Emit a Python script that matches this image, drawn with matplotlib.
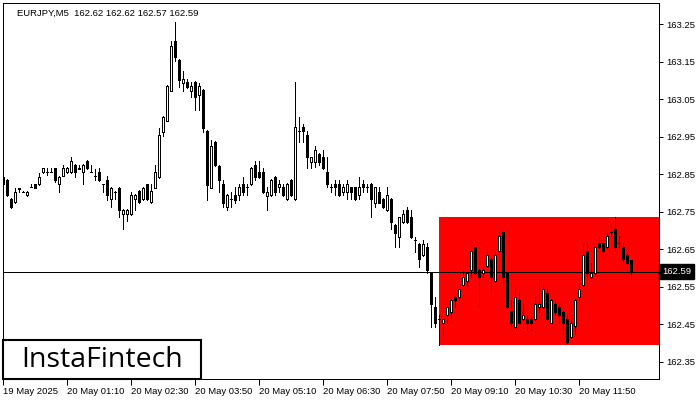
import matplotlib
matplotlib.use("Agg")
import matplotlib.pyplot as plt
import matplotlib.patches as mpatches
from matplotlib.transforms import blended_transform_factory

symbol_title = "EURJPY,M5  162.62 162.62 162.57 162.59"

opens = [162.823, 162.834, 162.784, 162.775, 162.812, 162.803, 162.794, 162.817, 162.823, 162.823,
         162.855, 162.857, 162.857, 162.866, 162.823, 162.846, 162.855, 162.855, 162.874, 162.866,
         162.855, 162.885, 162.857, 162.845, 162.855, 162.823, 162.834, 162.784, 162.803, 162.814,
         162.743, 162.743, 162.743, 162.784, 162.805, 162.784, 162.823, 162.775, 162.814, 162.843,
         162.963, 162.993, 163.073, 163.205, 163.154, 163.092, 163.097, 163.073, 163.097, 163.061,
         163.074, 162.965, 162.814, 162.937, 162.873, 162.824, 162.763, 162.784, 162.795, 162.795,
         162.824, 162.815, 162.824, 162.875, 162.855, 162.855, 162.792, 162.795, 162.843, 162.815,
         162.815, 162.784, 162.835, 162.784, 162.965, 162.975, 162.955, 162.883, 162.883, 162.904,
         162.895, 162.855, 162.815, 162.824, 162.824, 162.803, 162.803, 162.815, 162.815, 162.795,
         162.824, 162.815, 162.824, 162.774, 162.803, 162.784, 162.755, 162.784, 162.715, 162.683,
         162.723, 162.755, 162.735, 162.674, 162.664, 162.634, 162.656, 162.586, 162.495, 162.463,
         162.454, 162.475, 162.483, 162.523, 162.523, 162.555, 162.565, 162.595, 162.655, 162.595,
         162.586, 162.605, 162.624, 162.565, 162.645, 162.695, 162.586, 162.485, 162.443, 162.515,
         162.463, 162.463, 162.463, 162.463, 162.495, 162.495, 162.534, 162.454, 162.504, 162.495,
         162.483, 162.463, 162.415, 162.445, 162.523, 162.555, 162.645, 162.575, 162.586, 162.666,
         162.666, 162.655, 162.695, 162.704, 162.666, 162.655, 162.634, 162.620]

highs = [162.857, 162.836, 162.786, 162.814, 162.813, 162.804, 162.805, 162.824, 162.824, 162.852,
         162.867, 162.867, 162.866, 162.867, 162.845, 162.874, 162.868, 162.897, 162.876, 162.874,
         162.876, 162.887, 162.874, 162.864, 162.866, 162.824, 162.845, 162.816, 162.804, 162.816,
         162.756, 162.756, 162.803, 162.796, 162.807, 162.816, 162.825, 162.823, 162.874, 162.974,
         163.005, 163.087, 163.205, 163.257, 163.156, 163.125, 163.103, 163.097, 163.099, 163.092,
         163.076, 162.967, 162.941, 162.939, 162.875, 162.835, 162.797, 162.803, 162.817, 162.824,
         162.843, 162.824, 162.868, 162.886, 162.886, 162.866, 162.815, 162.837, 162.845, 162.835,
         162.824, 162.826, 162.837, 163.095, 163.003, 162.984, 162.965, 162.897, 162.924, 162.906,
         162.915, 162.895, 162.824, 162.835, 162.835, 162.824, 162.835, 162.817, 162.817, 162.843,
         162.835, 162.824, 162.826, 162.817, 162.815, 162.786, 162.815, 162.786, 162.717, 162.737,
         162.755, 162.763, 162.755, 162.683, 162.666, 162.674, 162.666, 162.588, 162.523, 162.475,
         162.465, 162.497, 162.517, 162.525, 162.545, 162.595, 162.588, 162.647, 162.657, 162.597,
         162.614, 162.655, 162.626, 162.645, 162.695, 162.697, 162.588, 162.515, 162.543, 162.534,
         162.504, 162.475, 162.475, 162.523, 162.565, 162.555, 162.543, 162.517, 162.515, 162.503,
         162.485, 162.475, 162.475, 162.517, 162.565, 162.666, 162.666, 162.614, 162.657, 162.685,
         162.685, 162.695, 162.715, 162.737, 162.685, 162.666, 162.636, 162.620]

lows = [162.820, 162.792, 162.761, 162.773, 162.803, 162.802, 162.793, 162.816, 162.813, 162.822,
        162.854, 162.848, 162.855, 162.830, 162.803, 162.845, 162.854, 162.853, 162.843, 162.864,
        162.823, 162.864, 162.855, 162.834, 162.833, 162.803, 162.781, 162.763, 162.785, 162.737,
        162.703, 162.725, 162.741, 162.754, 162.773, 162.782, 162.782, 162.773, 162.812, 162.841,
        162.953, 162.991, 163.071, 163.152, 163.083, 163.072, 163.081, 163.055, 163.021, 163.021,
        162.963, 162.781, 162.812, 162.872, 162.803, 162.763, 162.755, 162.763, 162.774, 162.781,
        162.795, 162.795, 162.822, 162.835, 162.841, 162.801, 162.755, 162.793, 162.795, 162.803,
        162.793, 162.782, 162.793, 162.782, 162.937, 162.937, 162.866, 162.866, 162.870, 162.875,
        162.864, 162.815, 162.803, 162.795, 162.793, 162.795, 162.784, 162.784, 162.782, 162.784,
        162.803, 162.803, 162.737, 162.763, 162.772, 162.761, 162.753, 162.703, 162.657, 162.657,
        162.721, 162.721, 162.681, 162.643, 162.603, 162.632, 162.586, 162.443, 162.443, 162.394,
        162.421, 162.454, 162.454, 162.495, 162.515, 162.553, 162.543, 162.575, 162.584, 162.495,
        162.575, 162.603, 162.534, 162.563, 162.634, 162.555, 162.493, 162.443, 162.441, 162.452,
        162.461, 162.434, 162.434, 162.461, 162.483, 162.493, 162.461, 162.452, 162.475, 162.454,
        162.423, 162.401, 162.413, 162.423, 162.515, 162.553, 162.575, 162.565, 162.584, 162.653,
        162.624, 162.653, 162.685, 162.645, 162.655, 162.614, 162.595, 162.570]

closes = [162.843, 162.794, 162.763, 162.803, 162.811, 162.803, 162.803, 162.817, 162.814, 162.843,
          162.866, 162.856, 162.856, 162.834, 162.843, 162.866, 162.866, 162.885, 162.855, 162.865,
          162.874, 162.866, 162.857, 162.845, 162.834, 162.823, 162.794, 162.814, 162.803, 162.754,
          162.754, 162.754, 162.794, 162.794, 162.775, 162.814, 162.784, 162.805, 162.855, 162.954,
          163.003, 163.085, 163.193, 163.163, 163.101, 163.103, 163.083, 163.085, 163.057, 163.085,
          162.974, 162.821, 162.925, 162.874, 162.834, 162.774, 162.795, 162.785, 162.781, 162.815,
          162.803, 162.815, 162.866, 162.843, 162.843, 162.803, 162.803, 162.835, 162.803, 162.824,
          162.795, 162.824, 162.795, 162.975, 162.965, 162.965, 162.895, 162.895, 162.915, 162.883,
          162.866, 162.824, 162.815, 162.815, 162.795, 162.815, 162.824, 162.803, 162.784, 162.815,
          162.815, 162.815, 162.784, 162.815, 162.774, 162.763, 162.795, 162.723, 162.694, 162.735,
          162.744, 162.723, 162.683, 162.674, 162.623, 162.664, 162.595, 162.503, 162.454, 162.463,
          162.463, 162.495, 162.515, 162.515, 162.543, 162.575, 162.586, 162.645, 162.586, 162.575,
          162.595, 162.634, 162.575, 162.634, 162.685, 162.575, 162.495, 162.454, 162.523, 162.454,
          162.475, 162.454, 162.454, 162.504, 162.503, 162.543, 162.463, 162.515, 162.483, 162.475,
          162.454, 162.403, 162.454, 162.515, 162.543, 162.634, 162.586, 162.586, 162.655, 162.655,
          162.645, 162.685, 162.695, 162.655, 162.666, 162.624, 162.614, 162.590]

time_labels = ["19 May 2025", "20 May 01:10", "20 May 02:30", "20 May 03:50", "20 May 05:10",
               "20 May 06:30", "20 May 07:50", "20 May 09:10", "20 May 10:30", "20 May 11:50"]
bars_per_label = 16

price_ticks = [162.35, 162.45, 162.55, 162.65, 162.75, 162.85, 162.95, 163.05, 163.15, 163.25]
current_price = 162.59

zone_start_bar = 109
zone_low = 162.395
zone_high = 162.735

FONT = "Liberation Sans"
FS = 6.8
PX = 0.72  # one pixel in points at 100 dpi

W, H = 700, 400
fig = plt.figure(figsize=(7, 4), dpi=100)
fig.patch.set_facecolor("white")
ax = fig.add_axes([3 / W, 1 - 379 / H, 656 / W, 376 / H])
ax.set_facecolor("white")

n = len(opens)
xs = list(range(n))
ax.set_xlim(-0.125, 163.9)
ax.set_ylim(162.3039, 163.3065)

# red rectangle zone
ax.add_patch(mpatches.Rectangle((zone_start_bar, zone_low), 200, zone_high - zone_low,
                                facecolor="#ff0000", edgecolor="none", zorder=1))

# current price line
ax.axhline(current_price, color="black", lw=PX, zorder=2, antialiased=False)

for i in xs:
    o, h, l, c = opens[i], highs[i], lows[i], closes[i]
    ax.vlines(i, l, h, color="black", lw=PX, zorder=3, antialiased=False)
    bull = c >= o
    bottom = min(o, c)
    height = abs(c - o)
    ax.bar(i, height, bottom=bottom, width=0.5,
           facecolor="white" if bull else "black", edgecolor="black",
           linewidth=PX, zorder=4, antialiased=False)

# axes styling
for s in ax.spines.values():
    s.set_color("black")
    s.set_linewidth(PX)
    s.set_antialiased(False)

ax.yaxis.tick_right()
ax.set_yticks(price_ticks)
ax.set_yticklabels([f"{p:.2f}" for p in price_ticks], family=FONT)
ax.tick_params(axis="y", direction="out", length=3, width=PX, labelsize=FS, pad=2.5, colors="black")

tick_pos = [k * bars_per_label for k in range(len(time_labels))]
ax.set_xticks(tick_pos)
ax.set_xticklabels(time_labels, family=FONT)
ax.tick_params(axis="x", direction="out", length=4, width=PX, labelsize=FS, pad=1.5, colors="black")
for lab in ax.get_xticklabels():
    lab.set_horizontalalignment("left")

# current price label box
tr = blended_transform_factory(ax.transAxes, ax.transData)
ax.text(1.005, current_price, f"{current_price:.2f}", transform=tr, ha="left", va="center",
        fontsize=FS, family=FONT, color="white", zorder=10, clip_on=False,
        bbox=dict(boxstyle="square,pad=0.3", facecolor="black", edgecolor="black"))

# title
ax.text(14 / 656, 1 - 10 / 376, symbol_title, transform=ax.transAxes, ha="left", va="center",
        fontsize=FS, family=FONT, color="black", zorder=10)

# logo
fig.patches.append(mpatches.Rectangle((3 / W, 1 - 379 / H), 198 / W, 39 / H, transform=fig.transFigure,
                                      facecolor="white", edgecolor="black", lw=1.5, zorder=20))
fig.text(102 / W, 1 - 360 / H, "InstaFintech", ha="center", va="center", fontsize=20.5,
         family="Open Sans", color="black", zorder=21)

fig.savefig("out.png", dpi=100)
